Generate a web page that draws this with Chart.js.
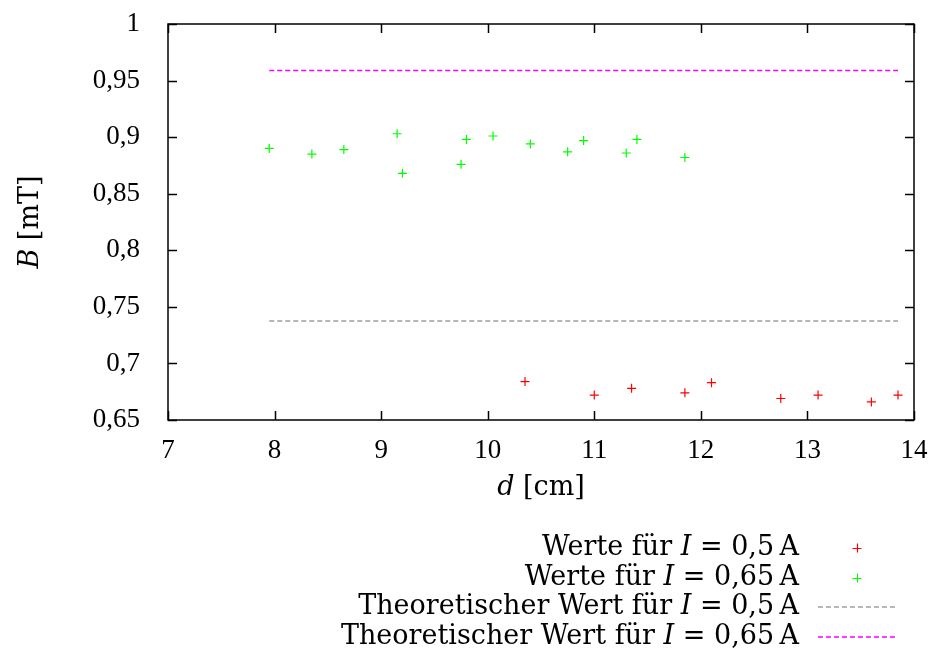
<!DOCTYPE html>
<html>
<head>
<meta charset="utf-8">
<script src="https://cdn.jsdelivr.net/npm/chart.js@4/dist/chart.umd.min.js"></script>
<style>
  html, body { margin: 0; padding: 0; background: #fff; }
  #wrap { width: 933px; height: 652px; position: relative; }
</style>
</head>
<body>
<div id="wrap"><canvas id="myChart"></canvas></div>
<script>
// measured values
const red05X = [10.35, 11.0, 11.35, 11.85, 12.1, 12.75, 13.1, 13.6, 13.85];
const red05Y = [0.684, 0.672, 0.678, 0.674, 0.683, 0.669, 0.672, 0.666, 0.672];
const green065X = [7.95, 8.35, 8.65, 9.15, 9.2, 9.75, 9.8, 10.05, 10.4, 10.75, 10.9, 11.3, 11.4, 11.85];
const green065Y = [0.890, 0.885, 0.889, 0.903, 0.868, 0.876, 0.898, 0.901, 0.894, 0.887, 0.897, 0.886, 0.898, 0.882];
const theoryX = [7.95, 13.85];
const theory05 = 0.7375;
const theory065 = 0.959;

const xTicks = [7, 8, 9, 10, 11, 12, 13, 14];
const xTickLabels = ['7', '8', '9', '10', '11', '12', '13', '14'];
const yTicks = [0.65, 0.7, 0.75, 0.8, 0.85, 0.9, 0.95, 1];
const yTickLabels = ['0,65', '0,7', '0,75', '0,8', '0,85', '0,9', '0,95', '1'];

const TICK_FONT = "'Liberation Serif', serif";
const TEXT_FONT = "'DejaVu Serif', serif";
const FS = 27;
const TFS = 27;

const colors = ['#ff0000', '#00ff00', '#a0a0a0', '#ff00ff'];

const pts = (xs, ys) => xs.map((x, i) => ({ x: x, y: ys[i] }));
const flat = (xs, v) => xs.map(x => ({ x: x, y: v }));

// label pieces: [text, italic]
const legendLabels = [
  [['Werte für ', false], ['I', true], [' = 0,5\u2009A', false]],
  [['Werte für ', false], ['I', true], [' = 0,65\u2009A', false]],
  [['Theoretischer Wert für ', false], ['I', true], [' = 0,5\u2009A', false]],
  [['Theoretischer Wert für ', false], ['I', true], [' = 0,65\u2009A', false]]
];

function setFont(ctx, it) {
  ctx.font = (it ? 'italic ' : '') + TFS + 'px ' + TEXT_FONT;
}

function richWidth(ctx, parts) {
  let w = 0;
  parts.forEach(p => { setFont(ctx, p[1]); w += ctx.measureText(p[0]).width; });
  return w;
}

function drawRich(ctx, parts, x, y) {
  ctx.textAlign = 'left';
  ctx.textBaseline = 'middle';
  parts.forEach(p => {
    setFont(ctx, p[1]);
    ctx.fillText(p[0], x, y);
    x += ctx.measureText(p[0]).width;
  });
}

const framePlugin = {
  id: 'frame',
  beforeDatasetsDraw(chart) {
    const { ctx, chartArea: a, scales: { x, y } } = chart;
    ctx.save();
    ctx.strokeStyle = '#000';
    ctx.lineWidth = 1.5;
    ctx.strokeRect(a.left, a.top, a.right - a.left, a.bottom - a.top);
    ctx.beginPath();
    xTicks.forEach(v => {
      const px = Math.round(x.getPixelForValue(v)) + 0.5;
      ctx.moveTo(px, a.bottom); ctx.lineTo(px, a.bottom - 9);
      ctx.moveTo(px, a.top); ctx.lineTo(px, a.top + 9);
    });
    yTicks.forEach(v => {
      const py = Math.round(y.getPixelForValue(v)) + 0.5;
      ctx.moveTo(a.left, py); ctx.lineTo(a.left + 9, py);
      ctx.moveTo(a.right, py); ctx.lineTo(a.right - 9, py);
    });
    ctx.stroke();
    ctx.restore();
  },
  afterDraw(chart) {
    const { ctx, chartArea: a } = chart;
    ctx.save();
    ctx.fillStyle = '#000';

    // axis titles
    const xt = [['d', true], [' [cm]', false]];
    const xw = richWidth(ctx, xt);
    drawRich(ctx, xt, (a.left + a.right) / 2 - xw / 2, 488);

    const yt = [['B', true], [' [mT]', false]];
    const yw = richWidth(ctx, yt);
    ctx.save();
    ctx.translate(31, (a.top + a.bottom) / 2);
    ctx.rotate(-Math.PI / 2);
    drawRich(ctx, yt, -yw / 2, 0);
    ctx.restore();

    // legend
    const rows = [548, 578, 607, 637];
    chart.data.datasets.forEach((ds, i) => {
      const parts = legendLabels[i];
      const w = richWidth(ctx, parts);
      ctx.fillStyle = '#000';
      drawRich(ctx, parts, 799 - w, rows[i]);
      ctx.strokeStyle = colors[i];
      ctx.beginPath();
      if (ds.showLine) {
        ctx.lineWidth = 1.5;
        ctx.setLineDash([5, 3]);
        ctx.moveTo(818, rows[i]);
        ctx.lineTo(895, rows[i]);
      } else {
        ctx.lineWidth = 1.2;
        ctx.setLineDash([]);
        ctx.moveTo(857 - 4.5, rows[i] + 0.5); ctx.lineTo(857 + 4.5, rows[i] + 0.5);
        ctx.moveTo(857.5, rows[i] - 4.5); ctx.lineTo(857.5, rows[i] + 4.5);
      }
      ctx.stroke();
    });
    ctx.restore();
  }
};

const ctx = document.getElementById('myChart').getContext('2d');

new Chart(ctx, {
  type: 'scatter',
  data: {
    datasets: [
      {
        label: 'Werte für I = 0,5 A',
        data: pts(red05X, red05Y),
        pointStyle: 'cross',
        pointRadius: 4.5,
        borderColor: colors[0],
        backgroundColor: colors[0],
        borderWidth: 1.2,
        showLine: false
      },
      {
        label: 'Werte für I = 0,65 A',
        data: pts(green065X, green065Y),
        pointStyle: 'cross',
        pointRadius: 4.5,
        borderColor: colors[1],
        backgroundColor: colors[1],
        borderWidth: 1.2,
        showLine: false
      },
      {
        label: 'Theoretischer Wert für I = 0,5 A',
        data: flat(theoryX, theory05),
        showLine: true,
        pointRadius: 0,
        borderColor: colors[2],
        borderWidth: 1.5,
        borderDash: [5, 3]
      },
      {
        label: 'Theoretischer Wert für I = 0,65 A',
        data: flat(theoryX, theory065),
        showLine: true,
        pointRadius: 0,
        borderColor: colors[3],
        borderWidth: 1.5,
        borderDash: [5, 3]
      }
    ]
  },
  options: {
    responsive: true,
    maintainAspectRatio: false,
    animation: false,
    layout: {
      padding: { top: 24, left: 0, right: 19, bottom: 0 }
    },
    scales: {
      x: {
        type: 'linear',
        min: 7,
        max: 14,
        afterBuildTicks: s => { s.ticks = xTicks.map(v => ({ value: v })); },
        afterFit: s => { s.height = 232; s.paddingLeft = 0; s.paddingRight = 0; },
        grid: { display: false },
        border: { display: false },
        ticks: {
          padding: 7,
          color: '#000',
          maxRotation: 0,
          font: { family: TICK_FONT, size: FS },
          callback: (v, i) => xTickLabels[i]
        }
      },
      y: {
        type: 'linear',
        min: 0.65,
        max: 1,
        afterBuildTicks: s => { s.ticks = yTicks.map(v => ({ value: v })); },
        afterFit: s => { s.width = 168; s.paddingTop = 0; s.paddingBottom = 0; },
        grid: { display: false },
        border: { display: false },
        ticks: {
          padding: 20,
          color: '#000',
          font: { family: TICK_FONT, size: FS },
          callback: (v, i) => yTickLabels[i]
        }
      }
    },
    plugins: {
      legend: { display: false },
      tooltip: { enabled: false }
    }
  },
  plugins: [framePlugin]
});
</script>
</body>
</html>
